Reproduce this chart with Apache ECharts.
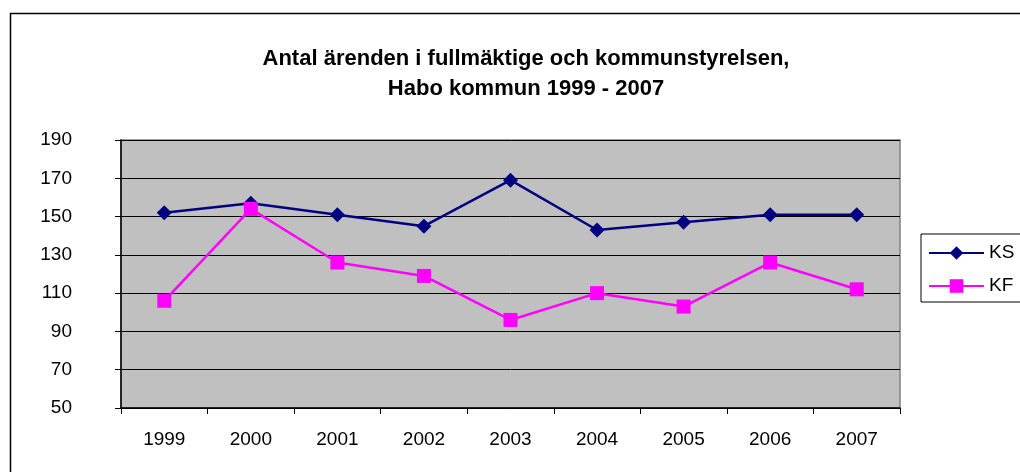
<!DOCTYPE html>
<html>
<head>
<meta charset="utf-8">
<script src="https://cdn.jsdelivr.net/npm/echarts@6/dist/echarts.min.js"></script>
<style>
  html, body { margin: 0; padding: 0; background: #fff; }
  #chart { width: 1020px; height: 472px; }
</style>
</head>
<body>
<div id="chart"></div>
<script>
const years = ['1999', '2000', '2001', '2002', '2003', '2004', '2005', '2006', '2007'];
const ksValues = [152, 157, 151, 145, 169, 143, 147, 151, 151];
const kfValues = [106, 154, 126, 119, 96, 110, 103, 126, 112];
const yTicks = { min: 50, max: 190, interval: 20 };

const chart = echarts.init(document.getElementById('chart'));
const font = 'Arial, "Liberation Sans", sans-serif';

chart.setOption({
  animation: false,
  textStyle: { fontFamily: font },
  // outer chart frame
  graphic: [{
    type: 'rect',
    left: 8, top: 11,
    shape: { width: 1100, height: 500 },
    style: { fill: 'none', stroke: '#000', lineWidth: 1.5 },
    silent: true
  }],
  title: {
    text: 'Antal ärenden i fullmäktige och kommunstyrelsen,\nHabo kommun 1999 - 2007',
    left: 521, top: 39, textAlign: 'center',
    textStyle: { fontFamily: font, fontSize: 22, fontWeight: 'bold', color: '#000', lineHeight: 30 }
  },
  legend: {
    orient: 'vertical',
    left: 921, top: 234,
    padding: [9, 60, 6, 7],
    itemGap: 13,
    itemWidth: 55, itemHeight: 17,
    borderColor: '#000', borderWidth: 1,
    backgroundColor: '#fff',
    textStyle: { fontFamily: font, fontSize: 19, color: '#000', lineHeight: 20 },
    data: ['KS', 'KF']
  },
  grid: {
    left: 121, right: 120, top: 140, bottom: 64,
    show: true, backgroundColor: '#C0C0C0', borderColor: '#808080', borderWidth: 1.5
  },
  xAxis: {
    type: 'category',
    data: years,
    boundaryGap: true,
    axisLine: { lineStyle: { color: '#000', width: 1.5 } },
    axisTick: { show: true, length: 6, lineStyle: { color: '#000' } },
    axisLabel: { fontFamily: font, fontSize: 19, color: '#000', margin: 22 }
  },
  yAxis: {
    type: 'value',
    min: yTicks.min, max: yTicks.max, interval: yTicks.interval,
    axisLine: { show: true, lineStyle: { color: '#000', width: 1.5 } },
    axisTick: { show: true, length: 6, lineStyle: { color: '#000' } },
    axisLabel: { fontFamily: font, fontSize: 19, color: '#000', margin: 49 },
    splitLine: { lineStyle: { color: '#000', width: 1 } }
  },
  series: [
    {
      name: 'KS', type: 'line', data: ksValues,
      symbol: 'diamond', symbolSize: 15,
      itemStyle: { color: '#000080' },
      lineStyle: { color: '#000080', width: 2.5 }
    },
    {
      name: 'KF', type: 'line', data: kfValues,
      symbol: 'rect', symbolSize: 14,
      itemStyle: { color: '#FF00FF' },
      lineStyle: { color: '#FF00FF', width: 2.5 }
    }
  ]
});
</script>
</body>
</html>
